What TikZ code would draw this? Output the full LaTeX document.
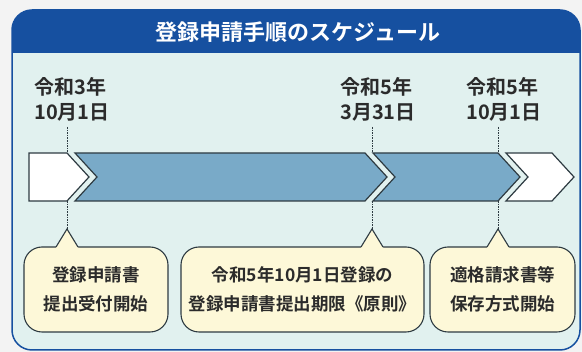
\documentclass[tikz,border=0pt]{standalone}
\usepackage{fontspec}
\setmainfont{Noto Sans CJK JP}[BoldFont={* Bold}]
\definecolor{hdrblue}{HTML}{1650A0}
\definecolor{bodyfill}{HTML}{E1F1EF}
\definecolor{chevblue}{HTML}{79AAC8}
\definecolor{edgecol}{HTML}{2E3B42}
\definecolor{cream}{HTML}{FDF8D8}
\definecolor{ink}{HTML}{2B2B2B}
\definecolor{pagebg}{HTML}{F3F3F3}
\begin{document}
\begin{tikzpicture}[x=1pt,y=-1pt,
  datelbl/.style={inner sep=0pt, align=left, text=ink, font=\bfseries\fontsize{20}{25}\selectfont},
  calloutbox/.style={draw=edgecol, line width=1.1pt, fill=cream, rounded corners=18pt,
     minimum height=85pt, inner sep=0pt, align=center, text=ink, font=\bfseries\fontsize{17.5}{29}\selectfont},
  chevw/.style={draw=edgecol, line width=1.2pt, fill=white, line join=miter},
  chevb/.style={draw=edgecol, line width=1.2pt, fill=chevblue, line join=miter},
  leader/.style={draw=edgecol, line width=0.8pt, dash pattern=on 1.6pt off 1pt}]
\useasboundingbox (0,0) rectangle (582,352);
\fill[pagebg] (0,0) rectangle (582,352);
% frame
\fill[bodyfill, rounded corners=20pt] (12,10) rectangle (580,350);
\begin{scope}
  \clip[rounded corners=20pt] (12,10) rectangle (580,350);
  \fill[hdrblue] (12,10) rectangle (580,53);
\end{scope}
\draw[hdrblue, line width=1.5pt, rounded corners=20pt] (12,10) rectangle (580,350);
\node[text=white, font=\bfseries\fontsize{22}{26}\selectfont] (title) at (298,32) {登録申請手順のスケジュール};

% chevron band
\draw[chevw] (29,153) -- (67,153) -- (89,177) -- (67,201) -- (29,201) -- cycle;
\draw[chevb] (75,153) -- (365,153) -- (387,177) -- (365,201) -- (75,201) -- (97,177) -- cycle;
\draw[chevb] (373,153) -- (498,153) -- (520,177) -- (498,201) -- (373,201) -- (395,177) -- cycle;
\draw[chevw] (506,153) -- (552,153) -- (574,177) -- (552,201) -- (506,201) -- (528,177) -- cycle;

% date labels
\node[datelbl] (d1) at (72,99) {令和3年\\10月1日};
\node[datelbl] (d2) at (378,99) {令和5年\\3月31日};
\node[datelbl] (d3) at (504,99) {令和5年\\10月1日};

% anchor points
\coordinate (u1) at (67,127);  \coordinate (t1) at (67,153);
\coordinate (b1) at (67,201);  \coordinate (p1) at (67,229);
\coordinate (u2) at (372,127); \coordinate (t2) at (372,153);
\coordinate (b2) at (372,201); \coordinate (p2) at (372,229);
\coordinate (u3) at (498,127); \coordinate (t3) at (498,153);
\coordinate (b3) at (498,201); \coordinate (p3) at (498,229);

\draw[leader] (u1) -- (t1);  \draw[leader] (b1) -- (p1);
\draw[leader] (u2) -- (t2);  \draw[leader] (b2) -- (p2);
\draw[leader] (u3) -- (t3);  \draw[leader] (b3) -- (p3);

% callouts
\node[calloutbox, minimum width=144pt] (k1) at (96,289.5) {登録申請書\\提出受付開始};
\node[calloutbox, minimum width=243pt] (k2) at (302.5,289.5) {令和5年10月1日登録の\\登録申請書提出期限《原則》};
\node[calloutbox, minimum width=145pt] (k3) at (502.5,289.5) {適格請求書等\\保存方式開始};

\foreach \p in {p1,p2,p3}{
  \path (\p) coordinate (tipc);
  \fill[cream] ([xshift=-11pt,yshift=-18pt]tipc) -- (tipc) -- ([xshift=11pt,yshift=-18pt]tipc)
     -- ([xshift=11pt,yshift=-19.3pt]tipc) -- ([xshift=-11pt,yshift=-19.3pt]tipc) -- cycle;
  \draw[edgecol, line width=1.1pt, line join=miter] ([xshift=-11pt,yshift=-18pt]tipc) -- (tipc) -- ([xshift=11pt,yshift=-18pt]tipc);
}
\end{tikzpicture}
\end{document}
